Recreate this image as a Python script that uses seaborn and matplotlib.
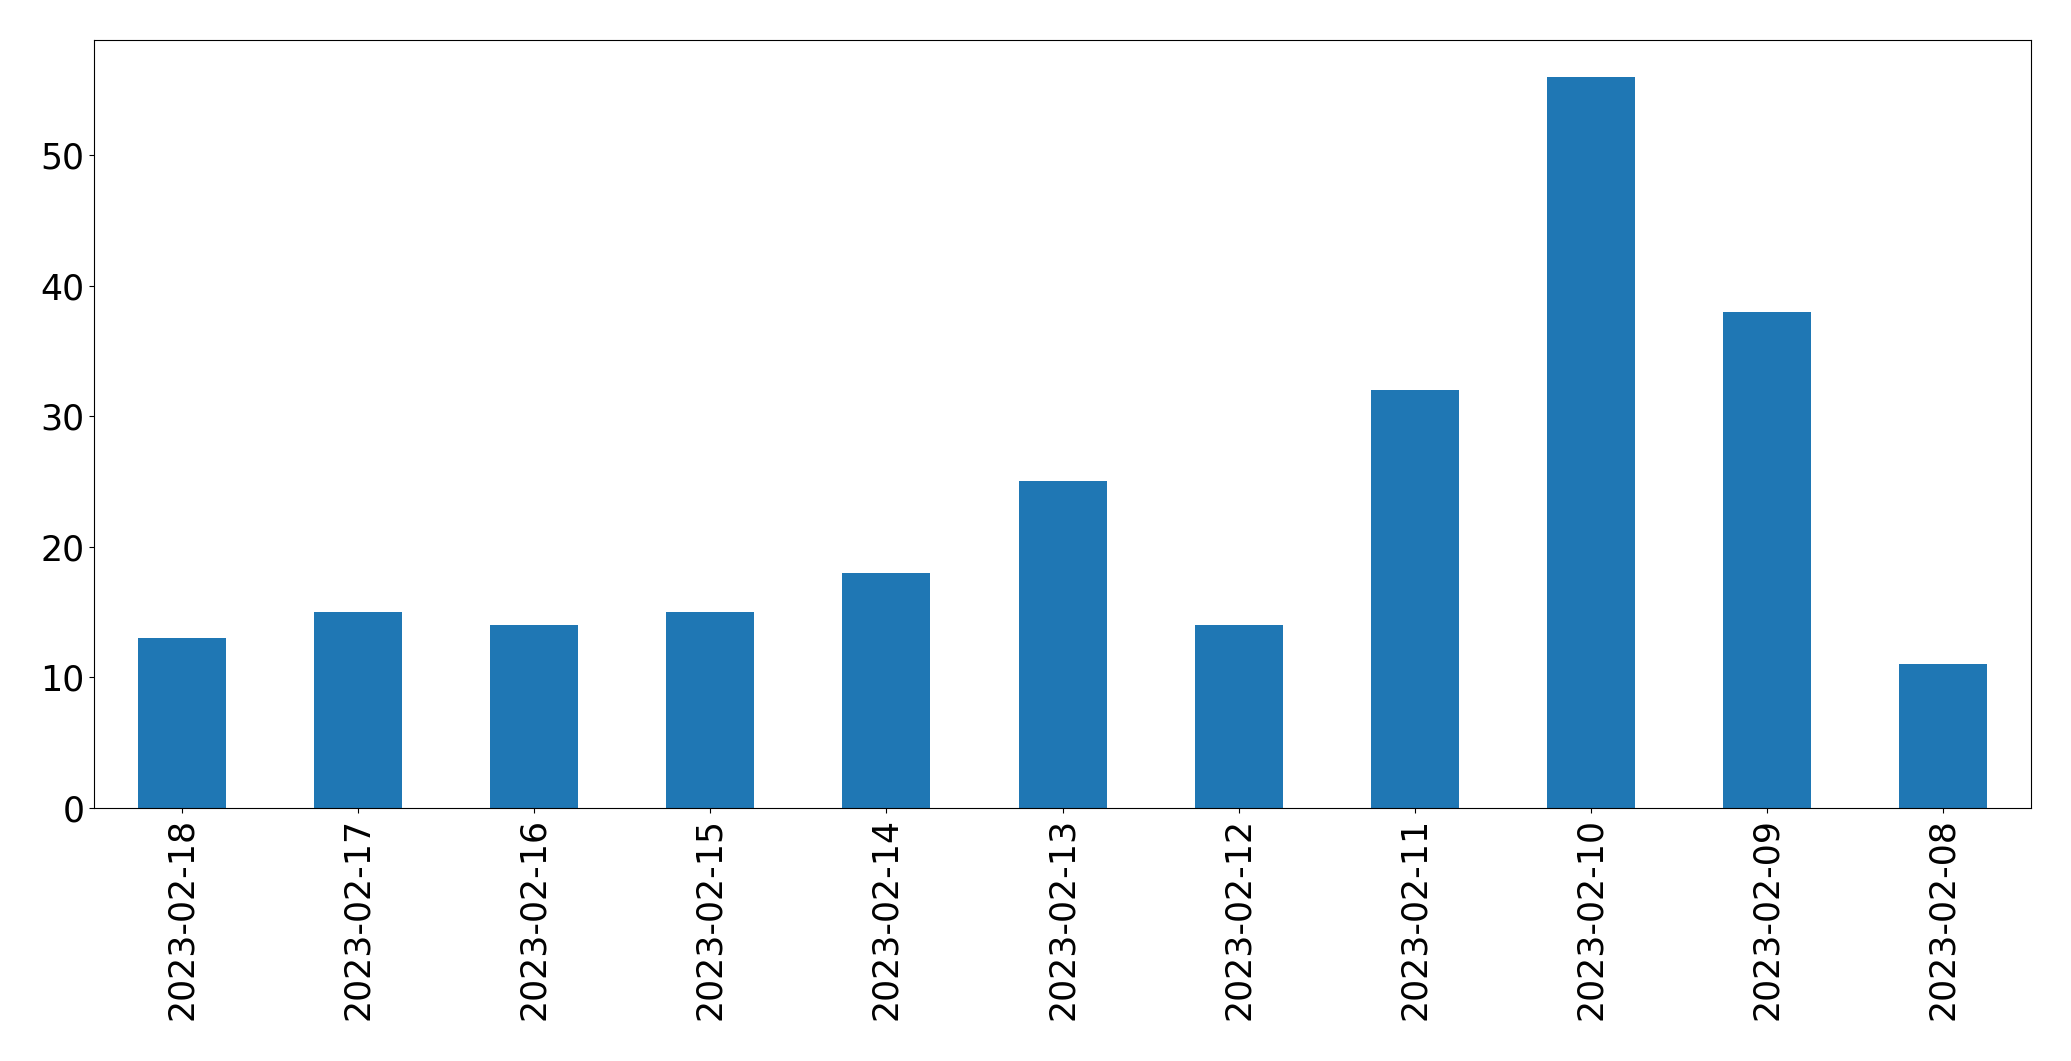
import numpy as np
import pandas as pd
import seaborn as sns
import matplotlib.pyplot as plt

dates = ['2023-02-18', '2023-02-17', '2023-02-16', '2023-02-15', '2023-02-14',
         '2023-02-13', '2023-02-12', '2023-02-11', '2023-02-10', '2023-02-09',
         '2023-02-08']
counts = [13, 15, 14, 15, 18, 25, 14, 32, 56, 38, 11]

df = pd.DataFrame({'date': dates, 'count': counts})

fig, ax = plt.subplots(figsize=(20.71, 10.61), dpi=100)
fig.subplots_adjust(left=0.0454, right=0.9807, top=0.9623, bottom=0.2385)

sns.barplot(data=df, x='date', y='count', color='#1f77b4', saturation=1,
            width=0.5, ax=ax)

ax.set_xlim(-0.5, len(dates) - 0.5)
ax.set_ylim(0, max(counts) * 1.05)
ax.set_xlabel('')
ax.set_ylabel('')
ax.tick_params(axis='both', labelsize=25)
ax.tick_params(axis='x', labelrotation=90)

plt.savefig('out.png', dpi=100)
